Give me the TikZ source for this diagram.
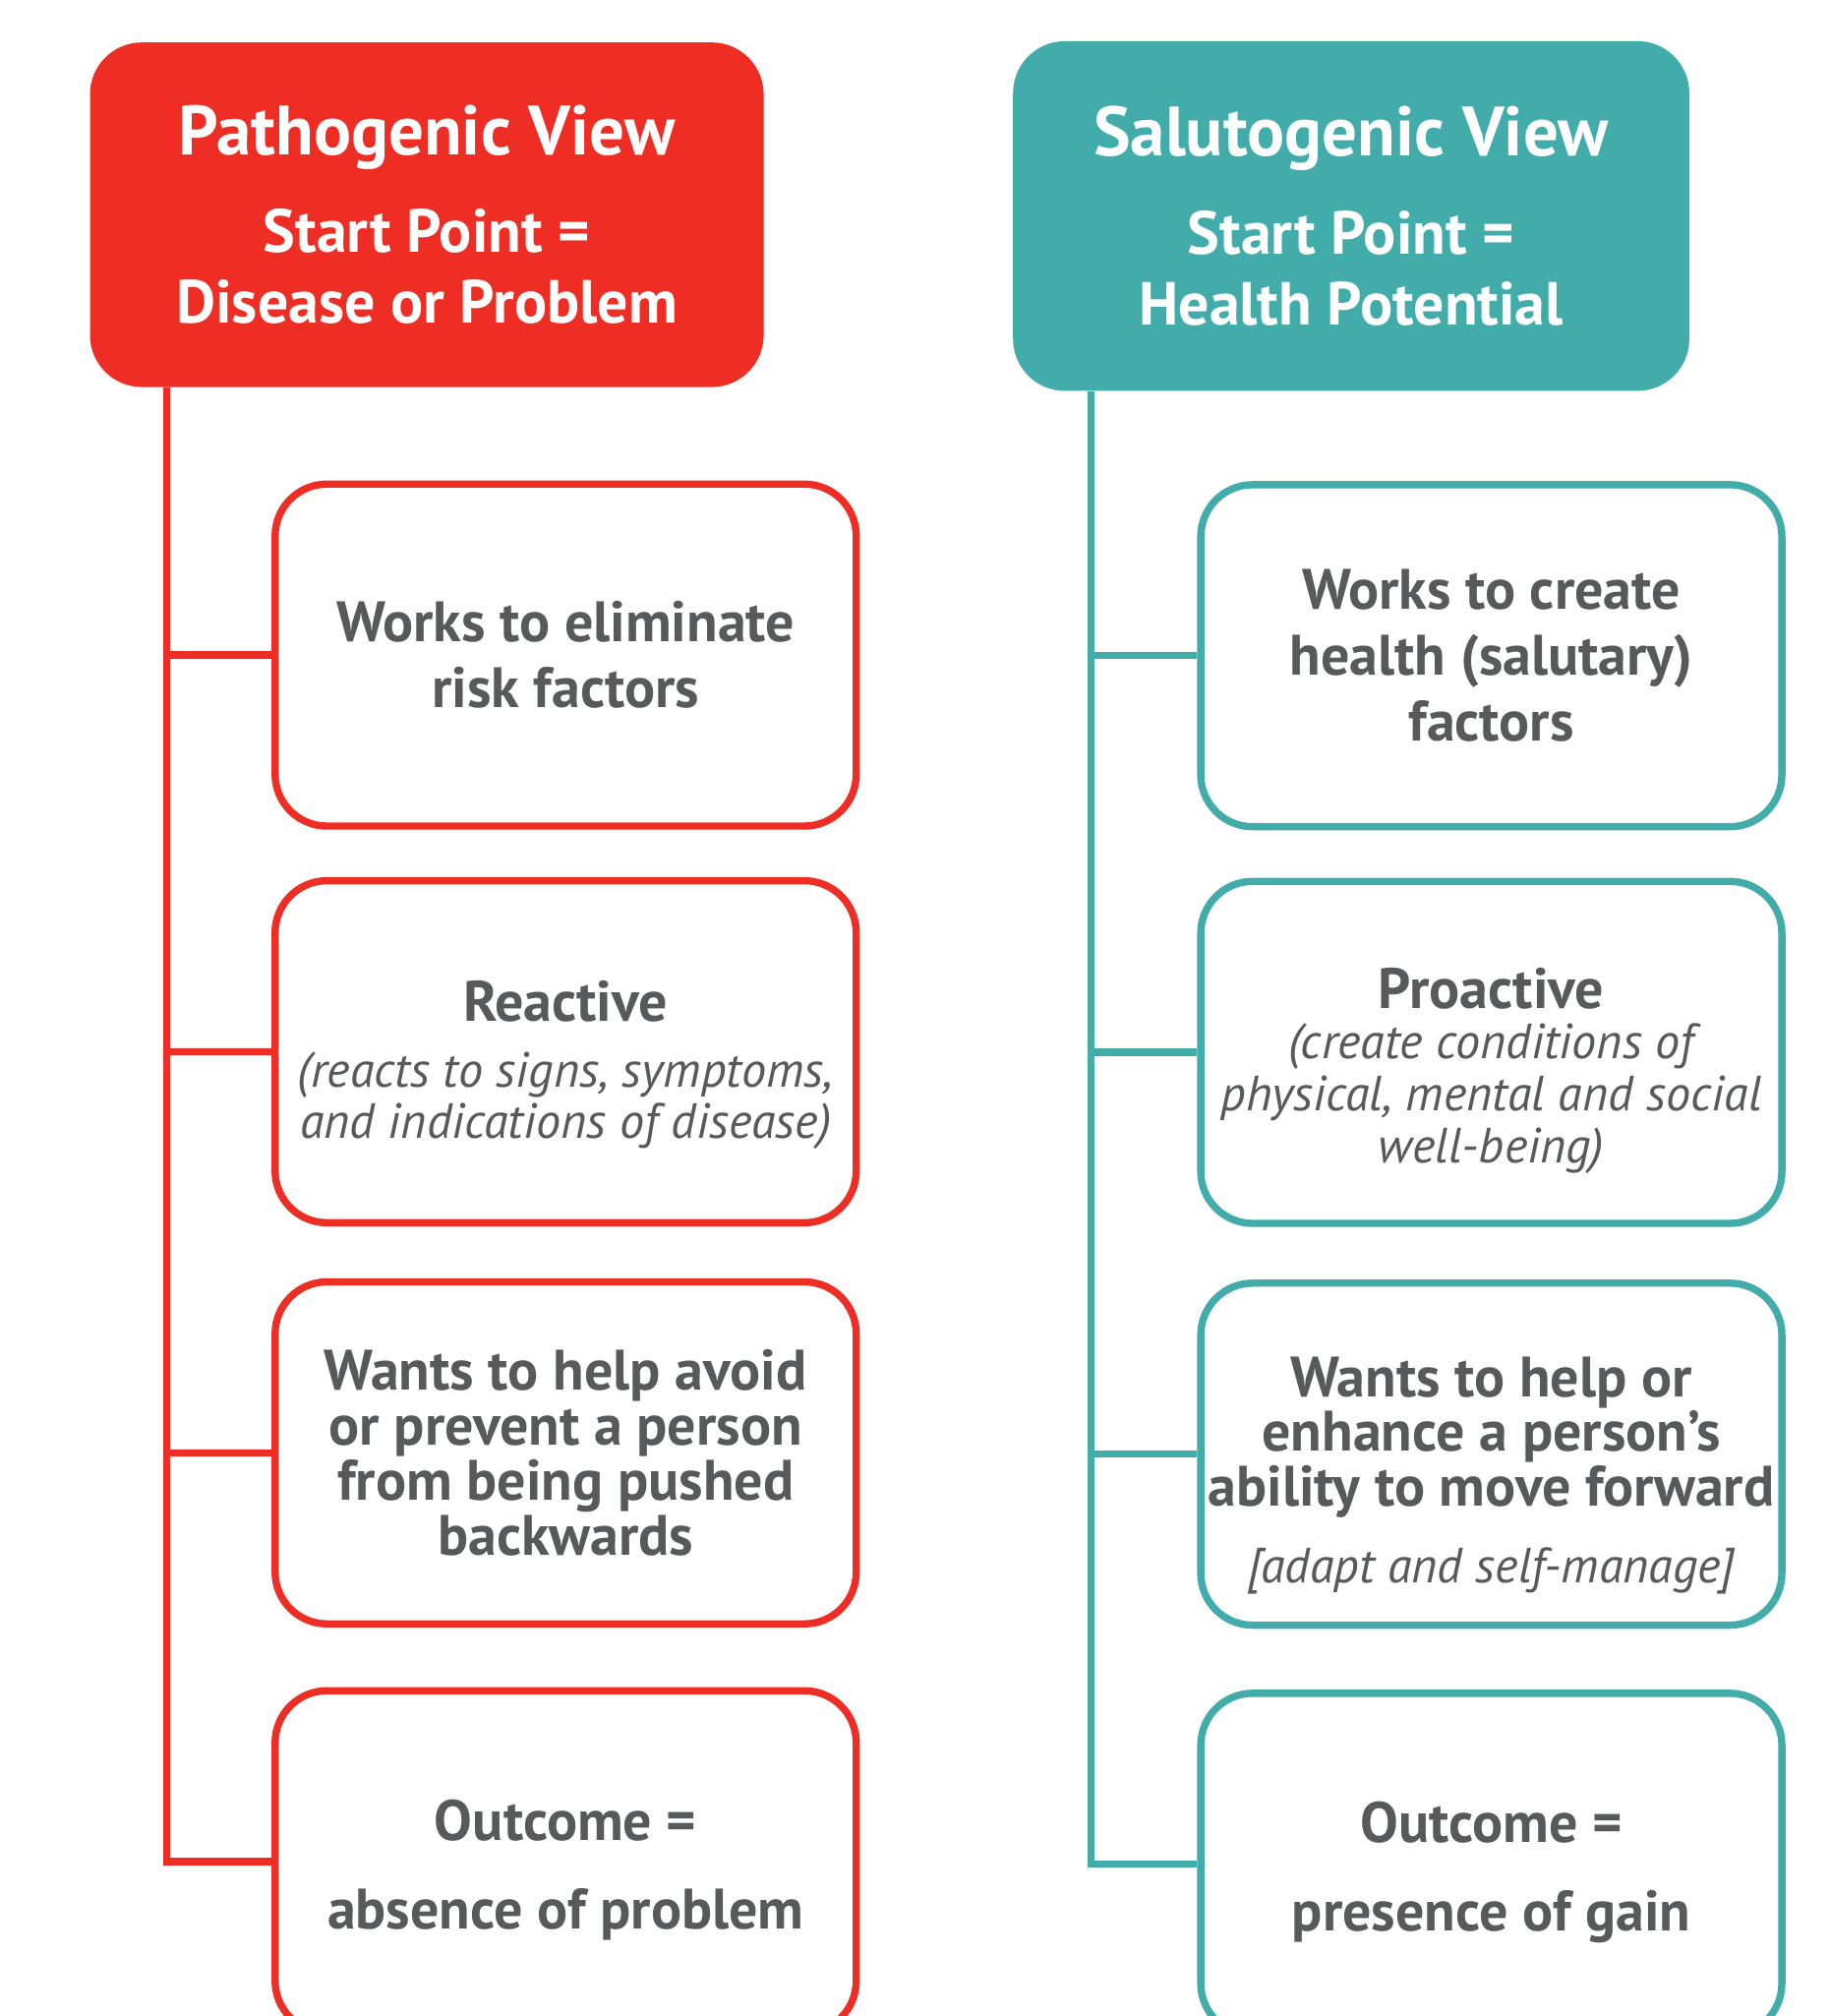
\documentclass[tikz,border=0pt]{standalone}
\usepackage{fontspec}
\setmainfont{PT Sans}
\usetikzlibrary{positioning}
\definecolor{pathored}{RGB}{238, 46, 36}
\definecolor{salutoteal}{RGB}{65, 172, 170}
\definecolor{textgray}{RGB}{88, 89, 91}
\newlength{\px}
\setlength{\px}{0.013078cm}
\lineskiplimit=-20pt
\newcommand{\headtitle}[1]{{\fontsize{20.2}{24}\selectfont #1}}
\newcommand{\subnote}[1]{{\mdseries\itshape\fontsize{14.3}{15}\selectfont #1}}
\newcommand{\toppad}[1]{\rule{0pt}{#1}}
\tikzset{
  headbox/.style={rectangle, rounded corners=15pt, minimum width=524\px,
    minimum height=268\px, inner sep=0pt, text=white, align=center,
    font=\bfseries\fontsize{17.6}{20.5}\selectfont},
  itembox/.style={rectangle, rounded corners=15pt, draw, line width=2.1pt,
    fill=white, minimum width=452\px, minimum height=266\px, inner sep=0pt,
    text=textgray, align=center, font=\bfseries\fontsize{16.5}{19}\selectfont},
  trunkline/.style={line width=2.1pt},
}

\begin{document}
\begin{tikzpicture}[x=1\px, y=-1\px]
  % page
  \fill[white] (0,0) rectangle (1423,1568);
  \path[use as bounding box, clip] (0,0) rectangle (1423,1568);

  % headers
  \node[headbox, fill=pathored] (pathohead) at (332,167)
    {\headtitle{Pathogenic View}\\[7.8pt] Start Point =\\ Disease or Problem};
  \node[headbox, fill=salutoteal, minimum height=272\px, minimum width=526\px] (salutohead) at (1051,168)
    {\headtitle{Salutogenic View}\\[7.8pt] Start Point =\\ Health Potential};

  % trunks
  \coordinate (ptrunk) at ([xshift=60\px]pathohead.south west);
  \coordinate (strunk) at ([xshift=61\px]salutohead.south west);

  % pathogenic column
  \node[itembox, draw=pathored] (patho1) at (440,509.5)
    {Works to eliminate\\ risk factors};
  \node[itembox, draw=pathored] (patho2) at (440,818)
    {\toppad{19.5pt}Reactive\\ \subnote{(reacts to signs, symptoms,}\\[-4pt] \subnote{and indications of disease)}};
  \node[itembox, draw=pathored] (patho3) at (440,1130)
    {Wants to help avoid\\[-3pt] or prevent a person\\[-3pt] from being pushed\\[-3pt] backwards};
  \node[itembox, draw=pathored] (patho4) at (440,1448)
    {\toppad{16.5pt}Outcome =\\[6.7pt] absence of problem};

  % salutogenic column
  \node[itembox, draw=salutoteal] (saluto1) at (1160,510)
    {Works to create\\ health (salutary)\\ factors};
  \node[itembox, draw=salutoteal] (saluto2) at (1160,818.5)
    {\toppad{22.5pt}Proactive\\[-4.5pt] \subnote{(create conditions of}\\[-4pt] \subnote{physical, mental and social}\\[-4pt] \subnote{well-being)}};
  \node[itembox, draw=salutoteal] (saluto3) at (1160,1131)
    {\toppad{24pt}Wants to help or\\[-3.3pt] enhance a person’s\\[-3.3pt] ability to move forward\\[3.3pt] \subnote{[adapt and self-manage]}};
  \node[itembox, draw=salutoteal] (saluto4) at (1160,1450)
    {\toppad{16.5pt}Outcome =\\[6.7pt] presence of gain};

  % connectors
  \draw[pathored, trunkline] (ptrunk) |- (patho4.west);
  \foreach \i in {1,2,3}
    \draw[pathored, trunkline] (patho\i.west -| ptrunk) -- (patho\i.west);
  \draw[salutoteal, trunkline] (strunk) |- (saluto4.west);
  \foreach \i in {1,2,3}
    \draw[salutoteal, trunkline] (saluto\i.west -| strunk) -- (saluto\i.west);
\end{tikzpicture}
\end{document}
